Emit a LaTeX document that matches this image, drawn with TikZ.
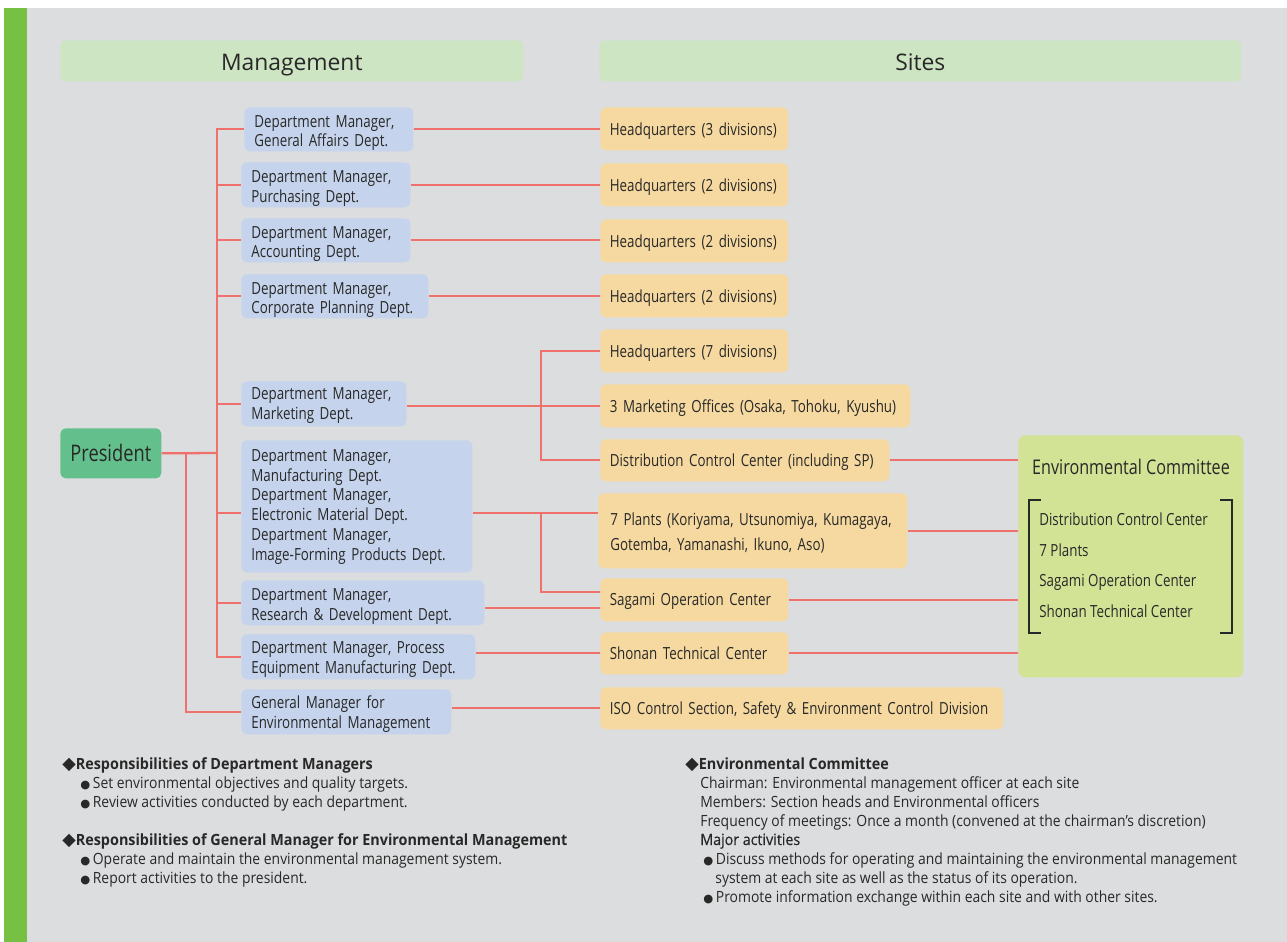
\documentclass[tikz,border=0pt]{standalone}
\usepackage{fontspec}
\setmainfont{Open Sans}
\newfontfamily\cond[FakeStretch=0.8]{Open Sans}
\newfontfamily\notefont[FakeStretch=0.9, BoldFeatures={FakeStretch=0.93}]{Open Sans}
\newfontface\majorfont[FakeStretch=0.92, FakeBold=0.5]{Open Sans}
\newfontfamily\symfont{DejaVu Sans}
\usetikzlibrary{positioning}

\definecolor{bggray}{RGB}{220,221,223}
\definecolor{bargreen}{RGB}{118,192,67}
\definecolor{headgreen}{RGB}{205,229,195}
\definecolor{deptblue}{RGB}{197,212,236}
\definecolor{siteorange}{RGB}{246,217,160}
\definecolor{presgreen}{RGB}{99,192,140}
\definecolor{envgreen}{RGB}{210,227,150}
\definecolor{linkred}{RGB}{240,112,108}
\definecolor{inkgray}{RGB}{40,40,40}

\begin{document}
\begin{tikzpicture}[x=0.02cm, y=-0.02cm,
  every node/.style={text=inkgray},
  head/.style={fill=headgreen, rounded corners=3pt, anchor=north west, inner sep=0pt,
    text height=12.3pt, text depth=1pt, font=\fontsize{13}{15}\selectfont},
  dept/.style={fill=deptblue, rounded corners=3pt, anchor=north west, inner xsep=0.2cm,
    inner ysep=0pt, text height=11pt, align=left, font=\cond\fontsize{9.5}{11.3}\selectfont},
  site/.style={fill=siteorange, rounded corners=3pt, anchor=north west, inner xsep=0.19cm,
    inner ysep=0pt, text depth=0pt, align=left, font=\cond\fontsize{9.5}{11.3}\selectfont,
    text width=3.38cm, minimum height=0.86cm},
  link/.style={draw=linkred, line width=1.3pt},
  note/.style={anchor=base west, inner sep=0pt, font=\notefont\fontsize{8.8}{10}\selectfont},
  notehead/.style={note, font=\notefont\bfseries\fontsize{8.8}{10}\selectfont}
]

\useasboundingbox (0,0) rectangle (1287,942);
\fill[bggray] (27,8) rectangle (1287,942);
\fill[bargreen] (4,8) rectangle (27,942);

% headers
\node[head, minimum width=9.26cm, minimum height=0.82cm] (mgmt) at (60,40) {Management};
\node[head, minimum width=12.84cm, minimum height=0.82cm] (sites) at (599,40) {Sites};

% president
\node[fill=presgreen, rounded corners=3pt, anchor=north west, inner sep=0pt,
  minimum width=2.02cm, minimum height=1.0cm, text depth=0.5pt, font=\cond\fontsize{13}{15}\selectfont]
  (pres) at (60,428) {President};

% managers
\node[dept, text width=2.98cm, minimum height=0.88cm] (ga) at (244,107)
  {Department Manager,\\General Affairs Dept.};
\node[dept, text width=2.98cm, minimum height=0.90cm] (pu) at (241,162)
  {Department Manager,\\Purchasing Dept.};
\node[dept, text width=2.98cm, minimum height=0.88cm] (ac) at (241,218)
  {Department Manager,\\Accounting Dept.};
\node[dept, text width=3.34cm, minimum height=0.88cm] (cp) at (241,274)
  {Department Manager,\\Corporate Planning Dept.};
\node[dept, text width=2.90cm, minimum height=0.90cm, text height=9pt] (mk) at (241,381)
  {Department Manager,\\Marketing Dept.};
\node[dept, text width=4.22cm, minimum height=2.64cm, text height=7.5pt] (mf) at (241,440)
  {Department Manager,\\Manufacturing Dept.\\Department Manager,\\Electronic Material Dept.\\Department Manager,\\Image-Forming Products Dept.};
\node[dept, text width=4.46cm, minimum height=0.90cm] (rd) at (241,580)
  {Department Manager,\\Research \& Development Dept.};
\node[dept, text width=4.28cm, minimum height=0.90cm, text height=9.5pt] (pe) at (241,634)
  {Department Manager, Process\\Equipment Manufacturing Dept.};
\node[dept, text width=3.80cm, minimum height=0.90cm, text height=9.5pt] (gm) at (241,689)
  {General Manager for\\Environmental Management};

% sites
\node[site] (hq3) at (600,107) {Headquarters (3 divisions)};
\node[site] (hqb) at (600,163) {Headquarters (2 divisions)};
\node[site] (hqc) at (600,219) {Headquarters (2 divisions)};
\node[site] (hqd) at (600,274) {Headquarters (2 divisions)};
\node[site] (hq7) at (600,329) {Headquarters (7 divisions)};
\node[site, text width=5.82cm] (mko) at (600,384) {3 Marketing Offices (Osaka, Tohoku, Kyushu)};
\node[site, text width=5.40cm, minimum height=0.84cm] (dcc) at (600,439)
  {Distribution Control Center (including SP)};
\node[site, text width=5.70cm, minimum height=1.50cm, inner xsep=0.24cm,
  text height=10pt, text depth=16.5pt] (plants) at (598,493)
  {7 Plants (Koriyama, Utsunomiya, Kumagaya,\\[3pt]Gotemba, Yamanashi, Ikuno, Aso)};
\node[site] (sagami) at (600,578) {Sagami Operation Center};
\node[site, minimum height=0.84cm] (shonan) at (600,632) {Shonan Technical Center};
\node[site, text width=7.68cm, minimum height=0.84cm] (iso) at (600,687)
  {ISO Control Section, Safety \& Environment Control Division};

% committee
\node[fill=envgreen, rounded corners=4pt, anchor=north west, inner sep=0pt,
  minimum width=4.5cm, minimum height=4.84cm] (env) at (1018,435) {};
\node[font=\cond\fontsize{11.5}{13}\selectfont] (envtitle) at (1131,467) {Environmental Committee};
\draw[inkgray, line width=1pt] (1041,500) -- (1029,500) -- (1029,633) -- (1041,633);
\draw[inkgray, line width=1pt] (1220,500) -- (1232,500) -- (1232,633) -- (1220,633);
\foreach \y/\t [count=\i] in {525/Distribution Control Center, 556/7 Plants,
    586/Sagami Operation Center, 617/Shonan Technical Center}
  \node[anchor=base west, inner sep=0pt, font=\cond\fontsize{9.5}{11.3}\selectfont] (mem\i) at (1039,\y) {\t};

% president to managers
\coordinate (trunk) at (217,453);
\coordinate (gmj) at (186,453);
\draw[link] (pres.east) -- (trunk);
\foreach \n in {ga,pu,ac,cp,mk,rd,pe}
  \draw[link] (trunk) |- (\n.west);
\draw[link] (trunk) |- ([yshift=-0.14cm]mf.west);
\draw[link] (gmj) |- (gm.west);

% managers to sites
\foreach \a/\b in {ga/hq3, pu/hqb, ac/hqc, cp/hqd}
  \draw[link] (\a.east) -- (\a.east -| \b.west);
\draw[link] (mk.east |- mko.west) -- (mko.west);
\coordinate (mkj) at (541,405);
\draw[link] (hq7.west) -| (mkj |- dcc.west) -- (dcc.west);
\coordinate (mfj) at (541,513);
\draw[link] (mf.east |- mfj) -- (plants.west |- mfj);
\draw[link] (mfj) |- ([yshift=0.16cm]sagami.west);
\draw[link] ([yshift=-0.16cm]sagami.west) -- ([yshift=-0.16cm]sagami.west -| rd.east);
\draw[link] (pe.east |- shonan.west) -- (shonan.west);
\draw[link] (gm.east |- iso.west) -- (iso.west);

% sites to committee
\foreach \s in {dcc,plants,sagami,shonan}
  \draw[link] (\s.east) -- (\s.east -| env.west);

% notes, left
\node[notehead] (r1) at (62,769) {{\symfont\fontsize{10}{10}\selectfont ◆}Responsibilities of Department Managers};
\node[note] (r1a) at (80,788) {{\symfont\fontsize{6.5}{6}\selectfont ●}\,Set environmental objectives and quality targets.};
\node[note] (r1b) at (80,807) {{\symfont\fontsize{6.5}{6}\selectfont ●}\,Review activities conducted by each department.};
\node[notehead] (r2) at (62,845) {{\symfont\fontsize{10}{10}\selectfont ◆}Responsibilities of General Manager for Environmental Management};
\node[note] (r2a) at (80,864) {{\symfont\fontsize{6.5}{6}\selectfont ●}\,Operate and maintain the environmental management system.};
\node[note] (r2b) at (80,883) {{\symfont\fontsize{6.5}{6}\selectfont ●}\,Report activities to the president.};

% notes, right
\node[notehead] (c0) at (685,769) {{\symfont\fontsize{10}{10}\selectfont ◆}Environmental Committee};
\node[note] (c1) at (700,788) {Chairman: Environmental management officer at each site};
\node[note] (c2) at (700,807) {Members: Section heads and Environmental officers};
\node[note] (c3) at (700,826) {Frequency of meetings: Once a month (convened at the chairman’s discretion)};
\node[note, font=\majorfont\fontsize{8.8}{10}\selectfont] (c4) at (700,845) {Major activities};
\node[note] (c5) at (703,864) {{\symfont\fontsize{6.5}{6}\selectfont ●}\,Discuss methods for operating and maintaining the environmental management};
\node[note] (c6) at (715,883) {system at each site as well as the status of its operation.};
\node[note] (c7) at (703,902) {{\symfont\fontsize{6.5}{6}\selectfont ●}\,Promote information exchange within each site and with other sites.};

\end{tikzpicture}
\end{document}
